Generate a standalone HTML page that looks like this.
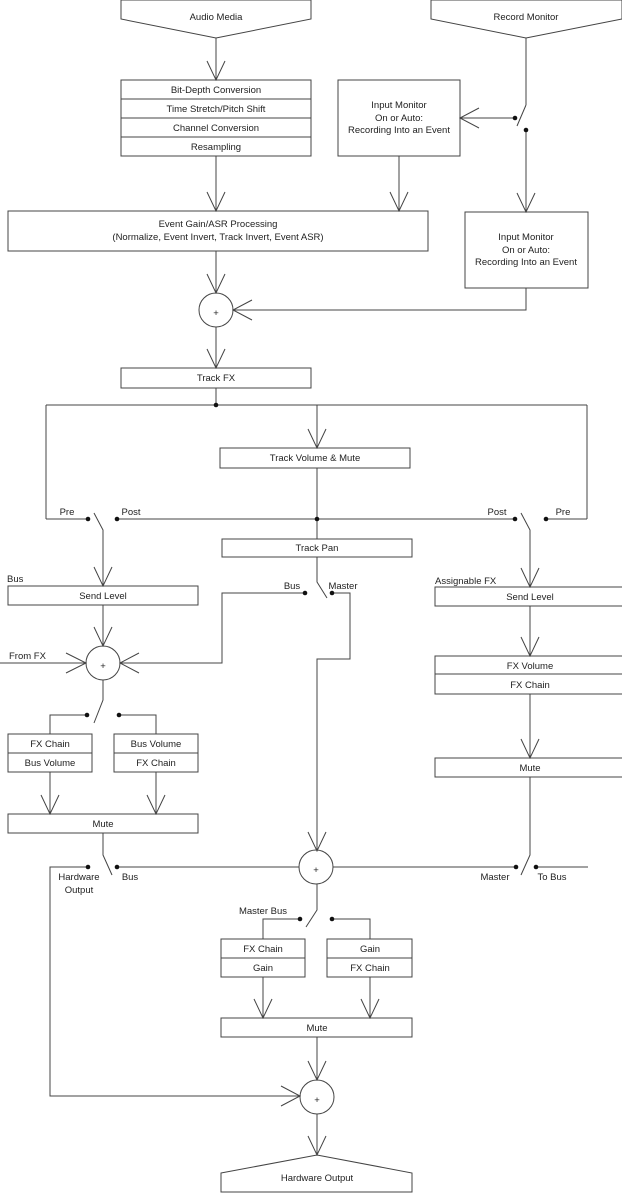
<!DOCTYPE html>
<html><head><meta charset="utf-8"><style>
html,body{margin:0;padding:0;background:#fff;}
svg{display:block;}
text{font-family:"Liberation Sans",sans-serif;font-size:9.5px;fill:#222;text-anchor:middle;}
.l{text-anchor:start;}
</style></head><body>
<svg width="622" height="1193" viewBox="0 0 622 1193" xmlns="http://www.w3.org/2000/svg">
<g fill="none" stroke="#444" stroke-width="1">
<!-- top pentagons -->
<polygon points="121,0 311,0 311,19 216,38 121,19"/>
<polygon points="431,0 622,0 622,19 526,38 431,19"/>
<!-- audio media -> stack -->
<line x1="216" y1="38" x2="216" y2="80"/>
<polyline points="207,61 216,80 225,61"/>
<rect x="121" y="80" width="190" height="76"/>
<line x1="121" y1="99" x2="311" y2="99"/>
<line x1="121" y1="118" x2="311" y2="118"/>
<line x1="121" y1="137" x2="311" y2="137"/>
<!-- input monitor 1 -->
<rect x="338" y="80" width="122" height="76"/>
<!-- record monitor switch -->
<line x1="526" y1="38" x2="526" y2="105"/>
<line x1="526" y1="105" x2="517" y2="126"/>
<line x1="515" y1="118" x2="460" y2="118"/>
<polyline points="479,108 460,118 479,128"/>
<line x1="526" y1="130" x2="526" y2="212"/>
<polyline points="517,193 526,212 535,193"/>
<rect x="465" y="212" width="123" height="76"/>
<!-- to event gain -->
<line x1="216" y1="156" x2="216" y2="211"/>
<polyline points="207,192 216,211 225,192"/>
<line x1="399" y1="156" x2="399" y2="211"/>
<polyline points="390,192 399,211 408,192"/>
<rect x="8" y="211" width="420" height="40"/>
<!-- circle 1 -->
<line x1="216" y1="251" x2="216" y2="293"/>
<polyline points="207,274 216,293 225,274"/>
<ellipse cx="216" cy="310" rx="17" ry="17"/>
<polyline points="526,288 526,310 233,310"/>
<polyline points="252,300 233,310 252,320"/>
<line x1="216" y1="327" x2="216" y2="368"/>
<polyline points="207,349 216,368 225,349"/>
<rect x="121" y="368" width="190" height="20"/>
<line x1="216" y1="388" x2="216" y2="405"/>
<line x1="46" y1="405" x2="587" y2="405"/>
<line x1="46" y1="405" x2="46" y2="519"/>
<line x1="587" y1="405" x2="587" y2="519"/>
<line x1="317" y1="405" x2="317" y2="448"/>
<polyline points="308,429 317,448 326,429"/>
<rect x="220" y="448" width="190" height="20"/>
<line x1="317" y1="468" x2="317" y2="539"/>
<!-- pre/post row -->
<line x1="46" y1="519" x2="88" y2="519"/>
<line x1="117" y1="519" x2="515" y2="519"/>
<line x1="546" y1="519" x2="587" y2="519"/>
<polyline points="94,513 103,530 103,586"/>
<polyline points="94,567 103,586 112,567"/>
<polyline points="521,513 530,530 530,587"/>
<polyline points="521,568 530,587 539,568"/>
<rect x="222" y="539" width="190" height="18"/>
<!-- bus/master switch -->
<polyline points="317,557 317,582 327,598"/>
<polyline points="305,593 222,593 222,663 120,663"/>
<polyline points="139,653 120,663 139,673"/>
<polyline points="332,593 350,593 350,659 317,659 317,851"/>
<polyline points="308,832 317,851 326,832"/>
<!-- left bus -->
<rect x="8" y="586" width="190" height="19"/>
<line x1="103" y1="605" x2="103" y2="646"/>
<polyline points="94,627 103,646 112,627"/>
<ellipse cx="103" cy="663" rx="17" ry="17"/>
<line x1="0" y1="663" x2="86" y2="663"/>
<polyline points="66,653 86,663 66,673"/>
<polyline points="103,680 103,700 94,723"/>
<polyline points="87,715 50,715 50,734"/>
<polyline points="119,715 156,715 156,734"/>
<rect x="8" y="734" width="84" height="38"/>
<line x1="8" y1="753" x2="92" y2="753"/>
<rect x="114" y="734" width="84" height="38"/>
<line x1="114" y1="753" x2="198" y2="753"/>
<line x1="50" y1="772" x2="50" y2="814"/>
<polyline points="41,795 50,814 59,795"/>
<line x1="156" y1="772" x2="156" y2="814"/>
<polyline points="147,795 156,814 165,795"/>
<rect x="8" y="814" width="190" height="19"/>
<polyline points="103,833 103,855 112,875"/>
<line x1="117" y1="867" x2="299" y2="867"/>
<polyline points="88,867 50,867 50,1096 300,1096"/>
<polyline points="281,1086 300,1096 281,1106"/>
<!-- right fx -->
<rect x="435" y="587" width="190" height="19"/>
<line x1="530" y1="606" x2="530" y2="656"/>
<polyline points="521,637 530,656 539,637"/>
<rect x="435" y="656" width="190" height="38"/>
<line x1="435" y1="674" x2="625" y2="674"/>
<line x1="530" y1="694" x2="530" y2="758"/>
<polyline points="521,739 530,758 539,739"/>
<rect x="435" y="758" width="190" height="19"/>
<polyline points="530,777 530,855 521,875"/>
<line x1="516" y1="867" x2="333" y2="867"/>
<line x1="536" y1="867" x2="588" y2="867"/>
<!-- master circle -->
<ellipse cx="316" cy="867" rx="17" ry="17"/>
<polyline points="317,884 317,910 306,927"/>
<polyline points="300,919 263,919 263,939"/>
<polyline points="332,919 370,919 370,939"/>
<rect x="221" y="939" width="84" height="38"/>
<line x1="221" y1="958" x2="305" y2="958"/>
<rect x="327" y="939" width="85" height="38"/>
<line x1="327" y1="958" x2="412" y2="958"/>
<line x1="263" y1="977" x2="263" y2="1018"/>
<polyline points="254,999 263,1018 272,999"/>
<line x1="370" y1="977" x2="370" y2="1018"/>
<polyline points="361,999 370,1018 379,999"/>
<rect x="221" y="1018" width="191" height="19"/>
<line x1="317" y1="1037" x2="317" y2="1080"/>
<polyline points="308,1061 317,1080 326,1061"/>
<ellipse cx="317" cy="1097" rx="17" ry="17"/>
<line x1="317" y1="1114" x2="317" y2="1155"/>
<polyline points="308,1136 317,1155 326,1136"/>
<polygon points="221,1173 317,1155 412,1173 412,1192 221,1192"/>
</g>
<g fill="#111">
<circle cx="515" cy="118" r="2.3"/><circle cx="526" cy="130" r="2.3"/>
<circle cx="216" cy="405" r="2.3"/><circle cx="317" cy="519" r="2.3"/>
<circle cx="88" cy="519" r="2.3"/><circle cx="117" cy="519" r="2.3"/>
<circle cx="515" cy="519" r="2.3"/><circle cx="546" cy="519" r="2.3"/>
<circle cx="305" cy="593" r="2.3"/><circle cx="332" cy="593" r="2.3"/>
<circle cx="87" cy="715" r="2.3"/><circle cx="119" cy="715" r="2.3"/>
<circle cx="88" cy="867" r="2.3"/><circle cx="117" cy="867" r="2.3"/>
<circle cx="516" cy="867" r="2.3"/><circle cx="536" cy="867" r="2.3"/>
<circle cx="300" cy="919" r="2.3"/><circle cx="332" cy="919" r="2.3"/>
</g>
<g style="font-size:17px">
<text x="216" y="316">+</text><text x="103" y="669">+</text><text x="316" y="873">+</text><text x="317" y="1103">+</text>
</g>
<text x="216" y="20">Audio Media</text>
<text x="526" y="20">Record Monitor</text>
<text x="216" y="93">Bit-Depth Conversion</text>
<text x="216" y="112">Time Stretch/Pitch Shift</text>
<text x="216" y="131">Channel Conversion</text>
<text x="216" y="150">Resampling</text>
<text x="399" y="108">Input Monitor</text>
<text x="399" y="121">On or Auto:</text>
<text x="399" y="133">Recording Into an Event</text>
<text x="526" y="240">Input Monitor</text>
<text x="526" y="253">On or Auto:</text>
<text x="526" y="265">Recording Into an Event</text>
<text x="218" y="227">Event Gain/ASR Processing</text>
<text x="218" y="240">(Normalize, Event Invert, Track Invert, Event ASR)</text>
<text x="216" y="381">Track FX</text>
<text x="315" y="461">Track Volume &amp; Mute</text>
<text x="67" y="515">Pre</text>
<text x="131" y="515">Post</text>
<text x="497" y="515">Post</text>
<text x="563" y="515">Pre</text>
<text x="317" y="551">Track Pan</text>
<text x="292" y="589">Bus</text>
<text x="343" y="589">Master</text>
<text class="l" x="7" y="582">Bus</text>
<text x="103" y="599">Send Level</text>
<text class="l" x="435" y="584">Assignable FX</text>
<text x="530" y="600">Send Level</text>
<text class="l" x="9" y="659">From FX</text>
<text x="50" y="747">FX Chain</text>
<text x="50" y="766">Bus Volume</text>
<text x="156" y="747">Bus Volume</text>
<text x="156" y="766">FX Chain</text>
<text x="103" y="827">Mute</text>
<text x="530" y="669">FX Volume</text>
<text x="530" y="688">FX Chain</text>
<text x="530" y="771">Mute</text>
<text x="79" y="880">Hardware</text>
<text x="79" y="893">Output</text>
<text x="130" y="880">Bus</text>
<text x="495" y="880">Master</text>
<text x="552" y="880">To Bus</text>
<text x="263" y="914">Master Bus</text>
<text x="263" y="952">FX Chain</text>
<text x="263" y="971">Gain</text>
<text x="370" y="952">Gain</text>
<text x="370" y="971">FX Chain</text>
<text x="317" y="1031">Mute</text>
<text x="317" y="1181">Hardware Output</text>
</svg>
</body></html>
